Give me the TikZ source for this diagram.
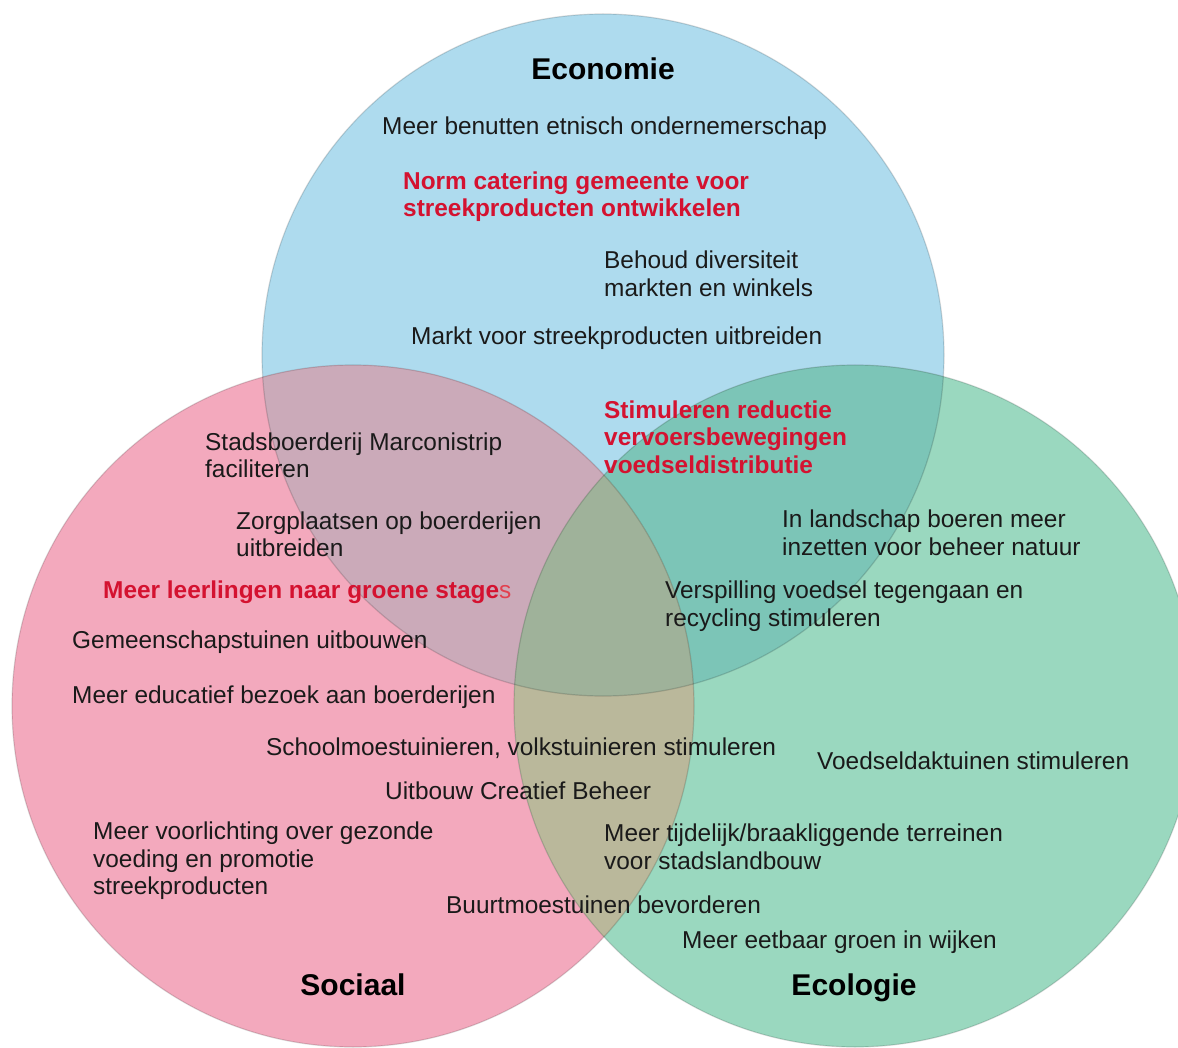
\documentclass[tikz,border=0pt]{standalone}
\usepackage{fontspec}
\setmainfont{Liberation Sans}
\definecolor{cB}{HTML}{AEDBEE}
\definecolor{cP}{HTML}{F3A9BD}
\definecolor{cG}{HTML}{9AD8BF}
\definecolor{cBP}{HTML}{CBAAB9}
\definecolor{cBG}{HTML}{7CC5B7}
\definecolor{cPG}{HTML}{BAB89B}
\definecolor{cBPG}{HTML}{9FB29A}
\definecolor{ink}{HTML}{1A1A1A}
\definecolor{redt}{HTML}{D41230}
\definecolor{redl}{HTML}{E2404E}
\begin{document}
\begin{tikzpicture}[x=1pt,y=-1pt,
  txt/.style={anchor=west, inner sep=0pt, align=left, text=ink,
    font=\fontsize{24.4}{27.5}\selectfont},
  rtxt/.style={txt, text=redt, font=\fontsize{24.4}{27.5}\selectfont\bfseries},
  ttl/.style={anchor=base, inner sep=0pt, text=black, font=\fontsize{30}{34}\selectfont\bfseries},
  rim/.style={draw=black, draw opacity=0.15, line width=1.2pt}]
\useasboundingbox (0,0) rectangle (1178,1048);
\def\cB{(603,355) circle[radius=341pt]}
\def\cP{(353,706) circle[radius=341pt]}
\def\cG{(855,706) circle[radius=341pt]}
\begin{scope}
\clip (0,0) rectangle (1178,1048);
\fill[cB] \cB;
\fill[cP] \cP;
\fill[cG] \cG;
\begin{scope}\clip \cB; \fill[cBP] \cP; \end{scope}
\begin{scope}\clip \cB; \fill[cBG] \cG; \end{scope}
\begin{scope}\clip \cP; \fill[cPG] \cG; \end{scope}
\begin{scope}\clip \cB; \clip \cP; \fill[cBPG] \cG; \end{scope}
\draw[rim] \cB;
\draw[rim] \cP;
\draw[rim] \cG;
\end{scope}

\node[ttl] (eco) at (603,80) {Economie};
\node[ttl] (soc) at (353,995) {Sociaal};
\node[ttl] (ecl) at (854,995) {Ecologie};

\node[txt] (t1) at (382,128) {Meer benutten etnisch ondernemerschap};
\node[rtxt] (t2) at (403,196.5) {Norm catering gemeente voor\\streekproducten ontwikkelen};
\node[txt] (t3) at (604,274) {Behoud diversiteit\\markten en winkels};
\node[txt] (t4) at (411,338) {Markt voor streekproducten uitbreiden};
\node[rtxt] (t5) at (604,437) {Stimuleren reductie\\vervoersbewegingen\\voedseldistributie};
\node[txt] (t6) at (205,455.5) {Stadsboerderij Marconistrip\\faciliteren};
\node[txt] (t7) at (236,534.5) {Zorgplaatsen op boerderijen\\uitbreiden};
\node[txt] (t8) at (782,533) {In landschap boeren meer\\inzetten voor beheer natuur};
\node[rtxt] (t9) at (103,592) {Meer leerlingen naar groene stage{\mdseries\color{redl}s}};
\node[txt] (t10) at (665,606) {Verspilling voedsel tegengaan en\\recycling stimuleren};
\node[txt] (t11) at (72,642) {Gemeenschapstuinen uitbouwen};
\node[txt] (t12) at (72,697) {Meer educatief bezoek aan boerderijen};
\node[txt] (t13) at (266,748) {Schoolmoestuinieren, volkstuinieren stimuleren};
\node[txt] (t14) at (817,761) {Voedseldaktuinen stimuleren};
\node[txt] (t15) at (385,791) {Uitbouw Creatief Beheer};
\node[txt] (t16) at (93,861) {Meer voorlichting over gezonde\\voeding en promotie\\streekproducten};
\node[txt] (t17) at (604,847) {Meer tijdelijk/braakliggende terreinen\\voor stadslandbouw};
\node[txt] (t18) at (446,905) {Buurtmoestuinen bevorderen};
\node[txt] (t19) at (682,942) {Meer eetbaar groen in wijken};
\end{tikzpicture}
\end{document}
